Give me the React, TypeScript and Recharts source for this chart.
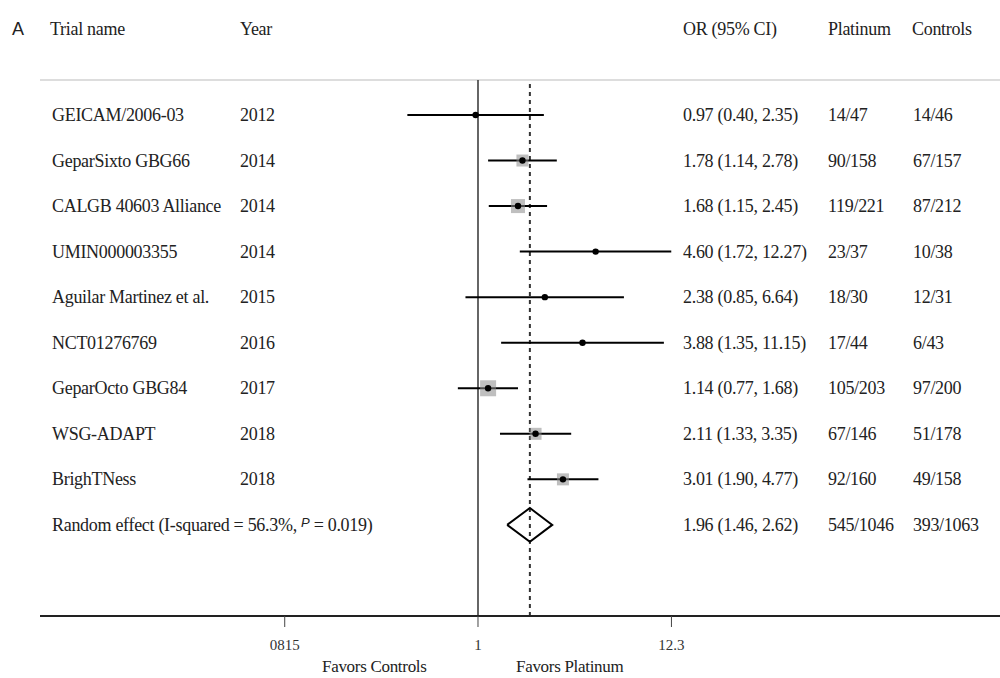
import React from 'react';
import {
  ComposedChart,
  Scatter,
  XAxis,
  YAxis,
  ErrorBar,
  ReferenceLine,
} from 'recharts';

// study rows, top to bottom
const trialNames = [
  'GEICAM/2006-03',
  'GeparSixto GBG66',
  'CALGB 40603 Alliance',
  'UMIN000003355',
  'Aguilar Martinez et al.',
  'NCT01276769',
  'GeparOcto GBG84',
  'WSG-ADAPT',
  'BrighTNess',
];
const years = ['2012', '2014', '2014', '2014', '2015', '2016', '2017', '2018', '2018'];
const oddsRatios = [0.97, 1.78, 1.68, 4.6, 2.38, 3.88, 1.14, 2.11, 3.01];
const ciLower = [0.4, 1.14, 1.15, 1.72, 0.85, 1.35, 0.77, 1.33, 1.9];
const ciUpper = [2.35, 2.78, 2.45, 12.27, 6.64, 11.15, 1.68, 3.35, 4.77];
const platinumEvents = ['14/47', '90/158', '119/221', '23/37', '18/30', '17/44', '105/203', '67/146', '92/160'];
const controlEvents = ['14/46', '67/157', '87/212', '10/38', '12/31', '6/43', '97/200', '51/178', '49/158'];
// relative study weights (square size)
const weights = [5, 12, 14, 4, 4, 4, 16, 12, 12];

// pooled estimate
const pooledLabel = 'Random effect (I-squared = 56.3%, ';
const pooledP = '= 0.019)';
const pooledOR = 1.96;
const pooledLower = 1.46;
const pooledUpper = 2.62;
const pooledPlatinum = '545/1046';
const pooledControls = '393/1063';

const xTicks = [0.0815, 1, 12.3];
const xTickLabels: Record<number, string> = { 0.0815: '0815', 1: '1', 12.3: '12.3' };

const headers = ['Trial name', 'Year', 'OR (95% CI)', 'Platinum', 'Controls'];

const fmt = (v: number) => v.toFixed(2);

const FONT = '"Liberation Serif", "Times New Roman", serif';
const FONT_SIZE = 18;
const TEXT = '#222';
const COL = { name: 52, year: 240, or: 683, plat: 828, ctrl: 913 };
const DIAMOND_H = 0.37;

const rows = trialNames.map((name, i) => ({
  x: oddsRatios[i],
  y: i,
  err: [oddsRatios[i] - ciLower[i], ciUpper[i] - oddsRatios[i]],
  name,
  year: years[i],
  orText: `${fmt(oddsRatios[i])} (${fmt(ciLower[i])}, ${fmt(ciUpper[i])})`,
  plat: platinumEvents[i],
  ctrl: controlEvents[i],
  weight: weights[i],
}));

const pooledRow = trialNames.length;
const pooledData = [{ x: pooledOR, y: pooledRow }];
const diamond = [
  { x: pooledLower, y: pooledRow },
  { x: pooledOR, y: pooledRow - DIAMOND_H },
  { x: pooledUpper, y: pooledRow },
  { x: pooledOR, y: pooledRow + DIAMOND_H },
  { x: pooledLower, y: pooledRow },
];

const yDomain: [number, number] = [-0.768, 11.0];

const cellText = (x: number, y: number, s: React.ReactNode, key: string) => (
  <text key={key} x={x} y={y} dominantBaseline="central" fontFamily={FONT} fontSize={FONT_SIZE} fill={TEXT} letterSpacing={-0.3}>
    {s}
  </text>
);

const TrialShape = (props: any) => {
  const { cx, cy, payload } = props;
  const side = payload.weight;
  return (
    <g>
      {side > 6 && (
        <rect x={cx - side / 2} y={cy - side / 2} width={side} height={side} fill="#8a8a8a" fillOpacity={0.55} />
      )}
      <circle cx={cx} cy={cy} r={3.2} fill="#000" />
      {cellText(COL.name, cy, payload.name, 'n')}
      {cellText(COL.year, cy, payload.year, 'y')}
      {cellText(COL.or, cy, payload.orText, 'o')}
      {cellText(COL.plat, cy, payload.plat, 'p')}
      {cellText(COL.ctrl, cy, payload.ctrl, 'c')}
    </g>
  );
};

const PooledShape = (props: any) => {
  const { cy } = props;
  return (
    <g>
      <text x={COL.name} y={cy} dominantBaseline="central" fontFamily={FONT} fontSize={FONT_SIZE} fill={TEXT} letterSpacing={-0.3}>
        {pooledLabel}
        <tspan fontFamily='"Liberation Sans", sans-serif' fontStyle="italic" fontSize={13} dy={-3}>P</tspan>
        <tspan dy={3}> {pooledP}</tspan>
      </text>
      {cellText(COL.or, cy, `${fmt(pooledOR)} (${fmt(pooledLower)}, ${fmt(pooledUpper)})`, 'o')}
      {cellText(COL.plat, cy, pooledPlatinum, 'p')}
      {cellText(COL.ctrl, cy, pooledControls, 'c')}
    </g>
  );
};

const headerX = [50, 240, 683, 828, 912];

export default function App() {
  return (
    <div style={{ position: 'absolute', left: 0, top: 0, width: 1000, height: 678, background: '#fff' }}>
      <div style={{ position: 'absolute', left: 12, top: 19, fontFamily: '"Liberation Sans", sans-serif', fontSize: 18, color: TEXT }}>
        A
      </div>
      {headers.map((h, i) => (
        <div
          key={h}
          style={{ position: 'absolute', left: headerX[i], top: 19, fontFamily: FONT, fontSize: FONT_SIZE, color: TEXT, whiteSpace: 'nowrap', letterSpacing: -0.3 }}
        >
          {h}
        </div>
      ))}
      <ComposedChart width={1000} height={678} margin={{ top: 80, right: 0, bottom: 22, left: 40 }}>
        <XAxis
          dataKey="x"
          type="number"
          scale="log"
          domain={[0.003407, 872.8]}
          allowDataOverflow
          ticks={xTicks}
          tickFormatter={(v: number) => xTickLabels[v] ?? String(v)}
          height={40}
          tickSize={11}
          tickMargin={12}
          axisLine={{ stroke: '#222', strokeWidth: 2 }}
          tickLine={{ stroke: '#444' }}
          tick={{ fontFamily: FONT, fontSize: 15, fill: '#333' }}
        />
        <YAxis dataKey="y" type="number" domain={yDomain} reversed hide allowDataOverflow />
        <ReferenceLine y={yDomain[0]} stroke="#bbb" strokeWidth={1} />
        <ReferenceLine x={1} stroke="#333" strokeWidth={1.5} />
        <ReferenceLine x={pooledOR} stroke="#333" strokeWidth={2} strokeDasharray="4 4" />
        <Scatter data={rows} shape={TrialShape} isAnimationActive={false}>
          <ErrorBar dataKey="err" direction="x" width={0} stroke="#000" strokeWidth={2} isAnimationActive={false} />
        </Scatter>
        <Scatter
          data={diamond}
          line={{ stroke: '#000', strokeWidth: 2 }}
          shape={() => <g />}
          isAnimationActive={false}
        />
        <Scatter data={pooledData} shape={PooledShape} isAnimationActive={false} />
      </ComposedChart>
      <div style={{ position: 'absolute', left: 322, top: 657, fontFamily: FONT, fontSize: 17, color: TEXT, whiteSpace: 'nowrap', letterSpacing: -0.3 }}>
        Favors Controls
      </div>
      <div style={{ position: 'absolute', left: 516, top: 657, fontFamily: FONT, fontSize: 17, color: TEXT, whiteSpace: 'nowrap', letterSpacing: -0.3 }}>
        Favors Platinum
      </div>
    </div>
  );
}
